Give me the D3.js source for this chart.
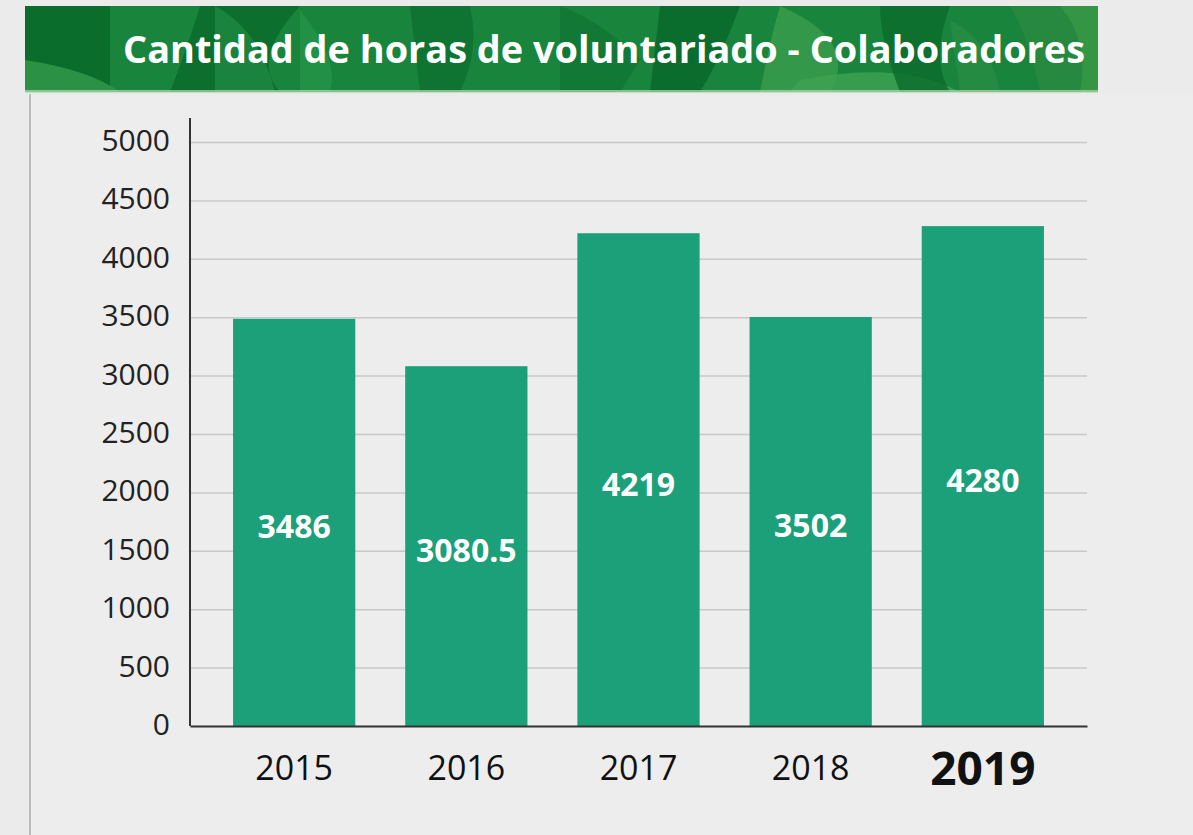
<!DOCTYPE html>
<html>
<head>
<meta charset="utf-8">
<script src="https://cdn.jsdelivr.net/npm/d3@7"></script>
<style>
  html, body { margin: 0; padding: 0; background: #ebebeb; }
  svg { display: block; }
</style>
</head>
<body>
<div id="chart"></div>
<script>
let title = "Cantidad de horas de voluntariado - Colaboradores";
let years = ["2015", "2016", "2017", "2018", "2019"];
let hours = [3486, 3080.5, 4219, 3502, 4280];
let valueLabels = ["3486", "3080.5", "4219", "3502", "4280"];
let yTicks = [0, 500, 1000, 1500, 2000, 2500, 3000, 3500, 4000, 4500, 5000];

let outerWidth = 1193;
let outerHeight = 835;
let margin = { "top": 142, "bottom": 109, "right": 106, "left": 190 };
let width = outerWidth - margin.left - margin.right;
let height = outerHeight - margin.top - margin.bottom;

let svg = d3.select('#chart')
    .append('svg')
    .attr('width', outerWidth)
    .attr('height', outerHeight);

// background
svg.append('rect')
    .attr('width', outerWidth)
    .attr('height', outerHeight)
    .attr('fill', '#ebebeb');
svg.append('rect')
    .attr('x', 31)
    .attr('y', 95)
    .attr('width', outerWidth - 31)
    .attr('height', outerHeight - 95)
    .attr('fill', '#ededed');
svg.append('line')
    .attr('x1', 30).attr('x2', 30)
    .attr('y1', 94).attr('y2', outerHeight)
    .attr('stroke', '#bcbcbc')
    .attr('stroke-width', 2);

// header band with leafy shapes
let header = svg.append('g');
header.append('defs').append('clipPath')
    .attr('id', 'headclip')
    .append('rect')
    .attr('x', 25).attr('y', 6)
    .attr('width', 1073).attr('height', 86);
header.append('rect')
    .attr('x', 25).attr('y', 6)
    .attr('width', 1073).attr('height', 86)
    .attr('fill', '#18843c');
let leaves = header.append('g').attr('clip-path', 'url(#headclip)');
let leafShapes = [
    ["M25,6 L110,6 L110,92 L25,92 Z", '#0b6d2c', 1],
    ["M25,60 Q90,70 120,92 L25,92 Z", '#2f9548', 0.9],
    ["M200,6 L300,6 Q250,60 280,92 L170,92 Q190,40 200,6 Z", '#0a6a2b', 0.8],
    ["M215,6 Q260,30 275,92 L215,92 Z", '#259147', 0.6],
    ["M300,10 Q340,60 330,92 L300,92 Z", '#2c9a4b', 0.6],
    ["M410,6 L470,6 Q480,50 460,92 L420,92 Z", '#0c6d2d', 0.7],
    ["M560,6 Q600,20 640,60 L620,92 L560,92 Z", '#0e7031', 0.6],
    ["M660,6 L740,6 Q720,60 700,92 L650,92 Z", '#0a6a2b', 0.9],
    ["M780,6 Q860,40 830,92 L760,92 Q770,40 780,6 Z", '#3c9e4f', 0.8],
    ["M800,80 Q900,60 960,92 L790,92 Z", '#40a252', 0.8],
    ["M880,6 L950,6 Q930,60 950,92 L900,92 Q880,40 880,6 Z", '#0b6b2c', 0.8],
    ["M950,20 Q990,40 1000,92 L960,92 Z", '#2c8f45', 0.7],
    ["M1010,6 L1098,6 L1098,92 L1040,92 Q1030,40 1010,6 Z", '#2a8b40', 0.8],
    ["M1060,6 Q1090,40 1080,92 L1098,92 L1098,6 Z", '#3a9a48', 0.7]
];
leaves.selectAll('path')
    .data(leafShapes)
    .enter()
    .append('path')
    .attr('d', function(d) { return d[0]; })
    .attr('fill', function(d) { return d[1]; })
    .attr('opacity', function(d) { return d[2]; });
header.append('rect')
    .attr('x', 25).attr('y', 90)
    .attr('width', 1073).attr('height', 3)
    .attr('fill', '#b9d9b8')
    .attr('opacity', 0.7);
header.append('text')
    .attr('x', 604)
    .attr('y', 63)
    .attr('text-anchor', 'middle')
    .attr('fill', '#ffffff')
    .attr('font-family', 'Open Sans, sans-serif')
    .attr('font-weight', 'bold')
    .attr('font-size', 38)
    .attr('textLength', 962)
    .attr('lengthAdjust', 'spacingAndGlyphs')
    .text(title);

// scales
let xScale = d3.scaleBand()
    .domain(years)
    .range([0, width])
    .paddingInner(0.29)
    .paddingOuter(0.25);
let yScale = d3.scaleLinear()
    .domain([0, 5000])
    .range([height, 0]);

let g = svg.append('g')
    .attr('transform', 'translate(' + margin.left + ',' + margin.top + ')');

// gridlines
let yGrid = d3.axisLeft(yScale)
    .tickValues(yTicks.slice(1))
    .tickSize(-width)
    .tickFormat('');
g.append('g')
    .attr('class', 'grid')
    .call(yGrid)
    .call(function(s) { s.select('.domain').remove(); })
    .selectAll('line')
    .attr('stroke', '#c8c8c8')
    .attr('stroke-width', 1.5);

// y axis
let yAxis = d3.axisLeft(yScale)
    .tickValues(yTicks)
    .tickSize(0)
    .tickPadding(20)
    .tickFormat(d3.format('d'));
let yAxisG = g.append('g')
    .call(yAxis);
yAxisG.select('.domain')
    .attr('d', 'M0,' + (-24) + 'V' + height)
    .attr('stroke', '#333')
    .attr('stroke-width', 2);
yAxisG.selectAll('text')
    .attr('font-family', 'Open Sans, sans-serif')
    .attr('font-size', 30)
    .attr('fill', '#222')
    .attr('dy', '0.28em');

// bars
g.selectAll('rect.bar')
    .data(hours)
    .enter()
    .append('rect')
    .attr('class', 'bar')
    .attr('x', function(d, i) { return xScale(years[i]); })
    .attr('y', function(d) { return yScale(d); })
    .attr('width', xScale.bandwidth())
    .attr('height', function(d) { return height - yScale(d); })
    .attr('fill', '#1ca079');

// x axis
let xAxis = d3.axisBottom(xScale)
    .tickSize(0)
    .tickPadding(22);
let xAxisG = g.append('g')
    .attr('transform', 'translate(0,' + height + ')')
    .call(xAxis);
xAxisG.select('.domain')
    .attr('stroke', '#333')
    .attr('stroke-width', 2);
xAxisG.selectAll('text')
    .attr('font-family', 'Open Sans, sans-serif')
    .attr('fill', '#111')
    .attr('font-size', function(d) { return d === '2019' ? 46 : 34; })
    .attr('font-weight', function(d) { return d === '2019' ? 'bold' : 'normal'; })
    .attr('dy', function(d) { return d === '2019' ? '0.8em' : '0.95em'; });

// value labels
g.selectAll('text.value')
    .data(hours)
    .enter()
    .append('text')
    .attr('class', 'value')
    .attr('x', function(d, i) { return xScale(years[i]) + xScale.bandwidth() / 2; })
    .attr('y', function(d) { return (yScale(d) + height) / 2 + 16; })
    .attr('text-anchor', 'middle')
    .attr('fill', '#ffffff')
    .attr('font-family', 'Open Sans, sans-serif')
    .attr('font-weight', 'bold')
    .attr('font-size', 32)
    .text(function(d, i) { return valueLabels[i]; });
</script>
</body>
</html>
